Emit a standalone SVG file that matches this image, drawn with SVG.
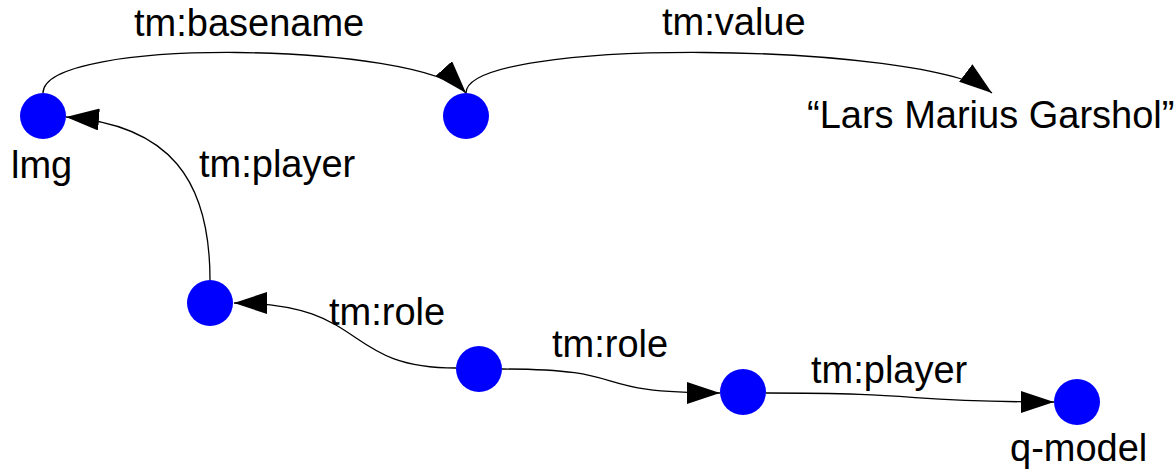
<svg xmlns="http://www.w3.org/2000/svg" width="1176" height="475" viewBox="0 0 1176 475">
<style>
.node{fill:#0000ff;}
.lbl{font-family:"Liberation Sans",Arial,sans-serif;font-size:38px;fill:#000;}
.edge{fill:none;stroke:#000;stroke-width:1.3;marker-end:url(#arr);}
</style>
<defs>
<marker id="arr" viewBox="0 0 33 22" refX="33" refY="11" markerWidth="33" markerHeight="22" markerUnits="userSpaceOnUse" orient="auto">
<path d="M0,0 L33,11 L0,22 z" fill="#000"/>
</marker>
</defs>
<rect width="1176" height="475" fill="#fff"/>
<g id="connectors">
<path class="edge" d="M43,93 C43,36 420,42 466,93"/>
<path class="edge" d="M466,93 C466,36 925,42 992,93"/>
<path class="edge" d="M210,280 C210,180 170,125 66,117"/>
<path class="edge" d="M456,368 C340,368 370,303 234,303"/>
<path class="edge" d="M502,369 C640,369 580,393 720,393"/>
<path class="edge" d="M766,393 C930,393 900,402 1054,402"/>
</g>
<g id="edge-labels">
<text class="lbl" x="134" y="36">tm:basename</text>
<text class="lbl" x="662" y="35">tm:value</text>
<text class="lbl" x="199" y="177">tm:player</text>
<text class="lbl" x="329" y="325">tm:role</text>
<text class="lbl" x="552" y="357">tm:role</text>
<text class="lbl" x="811" y="383">tm:player</text>
</g>
<g id="lmg"><circle class="node" cx="43" cy="116" r="23"/><text class="lbl" x="11" y="178">lmg</text></g>
<g id="basename"><circle class="node" cx="466" cy="116" r="23"/></g>
<g id="value"><text class="lbl" x="807" y="128">“Lars Marius Garshol”</text></g>
<g id="role-player"><circle class="node" cx="210" cy="303" r="23"/></g>
<g id="association"><circle class="node" cx="479" cy="369" r="23"/></g>
<g id="role2"><circle class="node" cx="743" cy="392" r="23"/></g>
<g id="q-model"><circle class="node" cx="1077" cy="402" r="23"/><text class="lbl" x="1010" y="461">q-model</text></g>
</svg>
